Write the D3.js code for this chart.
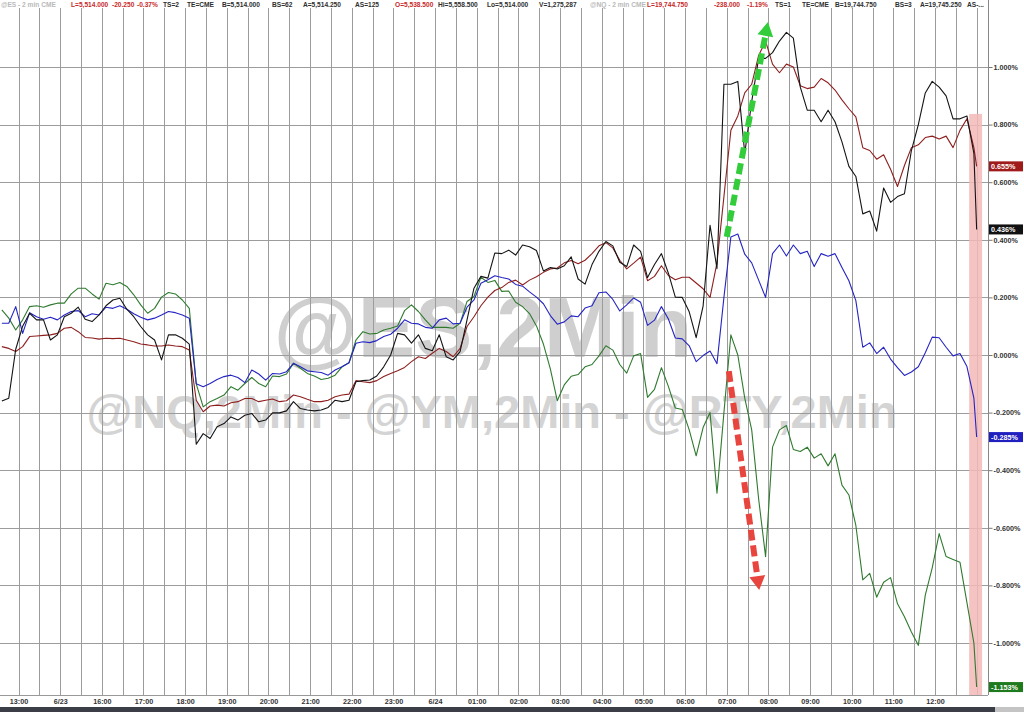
<!DOCTYPE html>
<html><head><meta charset="utf-8">
<script src="https://cdn.jsdelivr.net/npm/d3@7"></script>
<style>html,body{margin:0;padding:0;background:#fff;overflow:hidden}text{font-family:"Liberation Sans",Arial,sans-serif}</style>
</head><body><svg id="c" width="1024" height="712"></svg>
<script>
// ---------------- DATA ----------------
const hourLabels = ["13:00","6/23","16:00","17:00","18:00","19:00","20:00","21:00","22:00","23:00","6/24","01:00","02:00","03:00","04:00","05:00","06:00","07:00","08:00","09:00","10:00","11:00","12:00"];
const startHour = -0.4, stepHour = 1/6, lastHour = 23.0; // hour index (13:00 = 0), 10-minute samples
const yTicks = [1.0,0.8,0.6,0.4,0.2,0.0,-0.2,-0.4,-0.6,-0.8,-1.0];

const esValues = [
 0.029,0.023,0.012,0.029,0.064,0.066,0.068,0.070,0.075,0.093,
 0.096,0.081,0.061,0.059,0.055,0.058,0.057,0.058,0.052,0.046,
 0.038,0.035,0.031,0.031,0.035,0.031,0.029,0.017,-0.157,-0.197,
 -0.177,-0.174,-0.177,-0.166,-0.162,-0.151,-0.151,-0.162,-0.157,-0.153,
 -0.162,-0.159,-0.139,-0.145,-0.154,-0.162,-0.162,-0.157,-0.145,-0.139,
 -0.136,-0.089,-0.093,-0.096,-0.089,-0.075,-0.064,-0.055,-0.043,-0.023,
 -0.006,-0.012,0.006,0.023,0.012,-0.006,0.023,0.099,0.133,0.171,
 0.201,0.224,0.234,0.252,0.260,0.243,0.260,0.272,0.287,0.299,
 0.302,0.320,0.328,0.317,0.329,0.352,0.379,0.390,0.372,0.329,
 0.299,0.319,0.340,0.258,0.273,0.310,0.276,0.261,0.270,0.270,
 0.250,0.230,0.200,0.320,0.550,0.780,0.830,0.910,0.940,1.040,
 1.090,1.010,0.980,1.010,1.000,0.935,0.925,0.930,0.960,0.945,
 0.920,0.886,0.855,0.827,0.720,0.710,0.680,0.695,0.645,0.585,
 0.658,0.720,0.730,0.755,0.760,0.750,0.760,0.720,0.780,0.820,
 0.720,0.655];
const nqValues = [
 -0.160,-0.150,0.020,0.100,0.145,0.122,0.122,0.052,0.070,0.133,
 0.145,0.166,0.124,0.116,0.139,0.171,0.191,0.197,0.159,0.133,
 0.099,0.070,0.052,-0.017,0.070,0.070,0.058,0.038,-0.310,-0.273,
 -0.290,-0.249,-0.238,-0.215,-0.226,-0.209,-0.203,-0.232,-0.226,-0.201,
 -0.201,-0.194,-0.162,-0.186,-0.191,-0.194,-0.191,-0.182,-0.157,-0.162,
 -0.157,-0.093,-0.089,-0.087,-0.073,-0.041,0.000,0.075,0.070,0.041,
 0.070,0.023,0.015,0.070,-0.006,-0.017,0.012,0.122,0.232,0.273,
 0.267,0.354,0.352,0.364,0.347,0.382,0.376,0.363,0.292,0.304,
 0.299,0.310,0.341,0.264,0.246,0.314,0.360,0.394,0.379,0.322,
 0.307,0.382,0.360,0.269,0.314,0.352,0.284,0.201,0.200,0.150,
 0.060,0.170,0.450,0.300,0.940,0.940,0.950,0.700,0.880,1.030,
 1.030,1.050,1.090,1.120,1.100,0.930,0.850,0.850,0.810,0.850,
 0.810,0.740,0.655,0.620,0.490,0.500,0.430,0.580,0.530,0.550,
 0.560,0.710,0.800,0.910,0.950,0.930,0.900,0.820,0.820,0.830,
 0.700,0.436];
const ymValues = [
 0.110,0.110,0.168,0.075,0.147,0.133,0.124,0.131,0.122,0.139,
 0.151,0.154,0.133,0.143,0.139,0.166,0.162,0.171,0.159,0.143,
 0.131,0.122,0.128,0.139,0.151,0.147,0.139,0.128,-0.100,-0.110,
 -0.099,-0.085,-0.075,-0.070,-0.078,-0.096,-0.052,-0.066,-0.087,-0.064,
 -0.066,-0.058,-0.029,-0.041,-0.055,-0.058,-0.061,-0.070,-0.052,-0.041,
 -0.027,0.041,0.046,0.043,0.050,0.064,0.072,0.093,0.122,0.110,
 0.108,0.096,0.093,0.122,0.128,0.108,0.110,0.166,0.191,0.249,
 0.261,0.275,0.269,0.264,0.245,0.239,0.219,0.201,0.178,0.137,
 0.107,0.115,0.136,0.133,0.163,0.171,0.216,0.219,0.193,0.153,
 0.174,0.198,0.183,0.103,0.121,0.168,0.125,0.059,0.056,0.032,
 -0.023,-0.002,0.014,-0.030,0.200,0.410,0.420,0.350,0.320,0.260,
 0.200,0.352,0.382,0.344,0.382,0.352,0.360,0.307,0.352,0.343,
 0.352,0.304,0.258,0.189,0.027,0.042,0.005,0.027,-0.014,-0.044,
 -0.071,-0.059,-0.041,0.008,0.062,0.060,0.027,-0.003,0.005,-0.040,
 -0.150,-0.285];
const rtyValues = [
 0.157,0.128,0.087,0.122,0.168,0.171,0.166,0.174,0.180,0.180,
 0.212,0.232,0.232,0.212,0.194,0.249,0.244,0.252,0.238,0.209,
 0.174,0.145,0.162,0.201,0.217,0.212,0.191,0.162,-0.100,-0.180,
 -0.162,-0.151,-0.139,-0.110,-0.122,-0.099,-0.078,-0.099,-0.110,-0.073,
 -0.075,-0.066,-0.029,-0.046,-0.064,-0.073,-0.085,-0.081,-0.070,-0.041,
 -0.027,0.052,0.081,0.073,0.075,0.087,0.093,0.101,0.154,0.174,
 0.151,0.122,0.096,0.096,0.096,0.093,0.110,0.186,0.203,0.270,
 0.252,0.259,0.221,0.222,0.183,0.168,0.144,0.101,0.038,-0.048,
 -0.159,-0.104,-0.074,-0.068,-0.041,-0.033,-0.003,0.032,0.017,-0.033,
 -0.063,-0.003,0.005,-0.147,-0.119,-0.044,-0.109,-0.184,-0.189,-0.260,
 -0.350,-0.252,-0.200,-0.480,-0.200,0.070,0.000,-0.150,-0.260,-0.500,
 -0.700,-0.320,-0.260,-0.245,-0.328,-0.335,-0.320,-0.358,-0.343,-0.385,
 -0.343,-0.452,-0.486,-0.592,-0.781,-0.758,-0.841,-0.789,-0.773,-0.864,
 -0.909,-0.962,-1.008,-0.834,-0.739,-0.620,-0.700,-0.710,-0.720,-0.860,
 -1.000,-1.153];

const seriesNames = ["RTY","YM","ES","NQ"];
const lastValueLabels = [-1.153,-0.285,0.655,0.436];

const headerTexts = ["@ES - 2 min  CME","L=5,514.000","-20.250","-0.37%","TS=2","TE=CME","B=5,514.000","BS=62","A=5,514.250","AS=125","O=5,538.500","Hi=5,558.500","Lo=5,514.000","V=1,275,287","@NQ - 2 min  CME","L=19,744.750","-238.000","-1.19%","TS=1","TE=CME","B=19,744.750","BS=3","A=19,745.250","AS-..."];
const headerKinds = ["g","r","r","r","d","d","d","d","d","d","r","d","d","d","g","r","r","r","d","d","d","d","d","d"];

// annotation arrows in (hour, %) coordinates
const greenArrow = {from:[17.0,0.41], to:[17.99,1.156]};
const redArrow = {from:[17.05,-0.056], to:[17.78,-0.816]};
const highlightBand = {t0:22.82, t1:23.13, top:0.837};

// ---------------- LAYOUT / STYLE ----------------
const svg = d3.select("#c");
const plotRight = 988, plotTop = 8, plotBottom = 695;
const x = d3.scaleLinear().domain([0,22]).range([18.5,935]);
const y = d3.scaleLinear().domain([-1,1]).range([643,67]);
const times = d3.range(141).map(k => startHour + k*stepHour).concat([lastHour]);
const colors = {ES:"#8e1f1f", NQ:"#141414", YM:"#2424c4", RTY:"#2f7a2f"};
const labelFill = {ES:"#a01a1a", NQ:"#111111", YM:"#2020c0", RTY:"#1d7a1d"};
const seriesData = {ES:esValues, NQ:nqValues, YM:ymValues, RTY:rtyValues};

svg.append("rect").attr("width",1024).attr("height",712).attr("fill","#fff");

// watermarks
svg.append("text").attr("x",483).attr("y",357).attr("text-anchor","middle")
  .attr("font-size",86).attr("font-weight","bold").attr("fill","#cfcfcf").text("@ES,2Min");
svg.append("text").attr("x",492).attr("y",428).attr("text-anchor","middle")
  .attr("font-size",47).attr("font-weight","bold").attr("fill","#d4d4d4").text("@NQ,2Min - @YM,2Min - @RTY,2Min");

// grid
const grid = svg.append("g").attr("stroke","#9c9c9c").attr("stroke-width",1);
grid.selectAll("line.v").data(d3.range(0,23.01,0.5)).join("line")
  .attr("x1",d=>Math.round(x(d))+0.5).attr("x2",d=>Math.round(x(d))+0.5)
  .attr("y1",plotTop).attr("y2",plotBottom);
grid.selectAll("line.h").data(yTicks).join("line")
  .attr("x1",0).attr("x2",plotRight)
  .attr("y1",d=>Math.round(y(d))+0.5).attr("y2",d=>Math.round(y(d))+0.5);

// highlight band
svg.append("rect").attr("x",x(highlightBand.t0)).attr("width",x(highlightBand.t1)-x(highlightBand.t0))
  .attr("y",y(highlightBand.top)).attr("height",plotBottom-y(highlightBand.top))
  .attr("fill","#f5b8b8").attr("opacity",0.85);

// lines
const line = d3.line().x((d,i)=>x(times[i])).y(d=>y(d));
seriesNames.forEach(n=>{
  svg.append("path").datum(seriesData[n]).attr("d",line)
    .attr("fill","none").attr("stroke",colors[n]).attr("stroke-width",1.1).attr("stroke-linejoin","round");
});

// arrows
function arrow(a, color){
  const x0=x(a.from[0]), y0=y(a.from[1]), x1=x(a.to[0]), y1=y(a.to[1]);
  const ang=Math.atan2(y1-y0,x1-x0), hl=14, hw=8;
  const bx=x1-hl*Math.cos(ang), by=y1-hl*Math.sin(ang);
  svg.append("line").attr("x1",x0).attr("y1",y0).attr("x2",bx).attr("y2",by)
    .attr("stroke",color).attr("stroke-width",6).attr("stroke-dasharray","11,5");
  const px=-Math.sin(ang), py=Math.cos(ang);
  svg.append("polygon").attr("points",[[x1,y1],[bx+px*hw,by+py*hw],[bx-px*hw,by-py*hw]].map(p=>p.join(",")).join(" "))
    .attr("fill",color);
}
arrow(greenArrow,"#33cc3a");
arrow(redArrow,"#e8453f");

// right axis
const ra = svg.append("g").attr("transform",`translate(${plotRight+0.5},0)`)
  .call(d3.axisRight(y).tickValues(yTicks).tickSize(4).tickPadding(1).tickFormat(d=>d.toFixed(3)+"%"));
ra.select(".domain").remove();
ra.selectAll("line").attr("stroke","#777");
ra.selectAll("text").attr("font-size",7.2).attr("font-weight","bold").attr("fill","#333")
  .style("font-family",'"Liberation Sans",Arial,sans-serif');
svg.append("line").attr("x1",plotRight+0.5).attr("x2",plotRight+0.5).attr("y1",0).attr("y2",plotBottom).attr("stroke","#888");

// bottom axis
svg.append("line").attr("x1",0).attr("x2",plotRight).attr("y1",plotBottom+0.5).attr("y2",plotBottom+0.5).attr("stroke","#999");
const ba = svg.append("g").attr("transform",`translate(0,${plotBottom})`)
  .call(d3.axisBottom(x).tickValues(d3.range(0,23)).tickSize(0).tickPadding(4).tickFormat(i=>hourLabels[i]));
ba.select(".domain").remove();
ba.selectAll("text").attr("font-size",7.2).attr("font-weight","bold").attr("fill","#333")
  .style("font-family",'"Liberation Sans",Arial,sans-serif');
svg.append("rect").attr("x",0).attr("y",707).attr("width",995).attr("height",5).attr("fill","#3b3e46");
svg.append("rect").attr("x",995).attr("y",707).attr("width",29).attr("height",5).attr("fill","#c4c4c4");

// end value labels
seriesNames.forEach((n,i)=>{
  const v = lastValueLabels[i], yy = y(v);
  svg.append("rect").attr("x",989).attr("y",yy-5).attr("width",34).attr("height",10).attr("fill",labelFill[n]);
  svg.append("text").attr("x",991).attr("y",yy+2.6).attr("font-size",7.2).attr("font-weight","bold")
    .attr("fill","#fff").text(v.toFixed(3)+"%");
});

// header
const headerX = [1,71,112,137,163,187,222,272,303,355,395,438,487,539,590,647,714,747,775,802,835,895,920,967];
const headerColor = {g:"#b9b9b9", r:"#c8282a", d:"#2e2e2e"};
svg.append("rect").attr("x",0).attr("y",0).attr("width",plotRight).attr("height",plotTop-1).attr("fill","#fff");
headerTexts.forEach((t,i)=>{
  svg.append("text").attr("x",headerX[i]).attr("y",7).attr("font-size",6.6).attr("font-weight","bold")
    .attr("fill",headerColor[headerKinds[i]]).text(t);
});
</script></body></html>
